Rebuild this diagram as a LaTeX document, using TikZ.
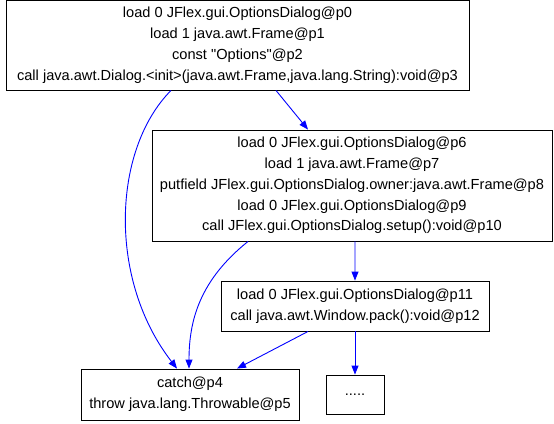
\documentclass[tikz,border=0pt]{standalone}
\usepackage{fontspec}
\setmainfont{Liberation Sans}[Ligatures=TeXOff]
\usetikzlibrary{arrows.meta,calc}
\begin{document}
\begin{tikzpicture}[x=1bp,y=-1bp,
  blk/.style={draw=black,line width=0.9bp,inner sep=0pt,align=center,
    font=\fontsize{14.6bp}{20.8bp}\selectfont},
  edge/.style={draw={rgb,255:red,0;green,0;blue,255},line width=0.9bp,
    -{Triangle[length=9bp,width=7bp]}}]
\useasboundingbox (0,0) rectangle (554,423);
\node[blk,minimum width=463bp,minimum height=89.5bp] (A) at (237.5,45.25)
  {load 0 JFlex.gui.OptionsDialog@p0\\ load 1 java.awt.Frame@p1\\ const "Options"@p2\\
   call java.awt.Dialog.<init>(java.awt.Frame,java.lang.String):void@p3};
\node[blk,minimum width=400bp,minimum height=111bp] (B) at (352,185.5)
  {load 0 JFlex.gui.OptionsDialog@p6\\ load 1 java.awt.Frame@p7\\
   putfield JFlex.gui.OptionsDialog.owner:java.awt.Frame@p8\\
   load 0 JFlex.gui.OptionsDialog@p9\\ call JFlex.gui.OptionsDialog.setup():void@p10};
\node[blk,minimum width=268bp,minimum height=50bp] (C) at (355,306)
  {load 0 JFlex.gui.OptionsDialog@p11\\ call java.awt.Window.pack():void@p12};
\node[blk,minimum width=218bp,minimum height=51bp] (D) at (190,394.5)
  {catch@p4\\ throw java.lang.Throwable@p5};
\node[blk,minimum width=58bp,minimum height=39bp] (E) at (355,394.5) {.....};
\draw[edge] ([xshift=38.5bp]A.south) -- ([xshift=-44bp]B.north);
\draw[edge] ([xshift=-66.5bp]A.south) .. controls (112,150) and (108,280) .. ([xshift=-13bp]D.north);
\draw[edge] ([xshift=-104bp]B.south) .. controls (200,280) and (189,320) .. ([xshift=-1bp]D.north);
\draw[edge] ([xshift=3bp]B.south) -- (C.north);
\draw[edge] ([xshift=-47bp]C.south) -- ([xshift=47bp]D.north);
\draw[edge] (C.south) -- (E.north);
\end{tikzpicture}
\end{document}
